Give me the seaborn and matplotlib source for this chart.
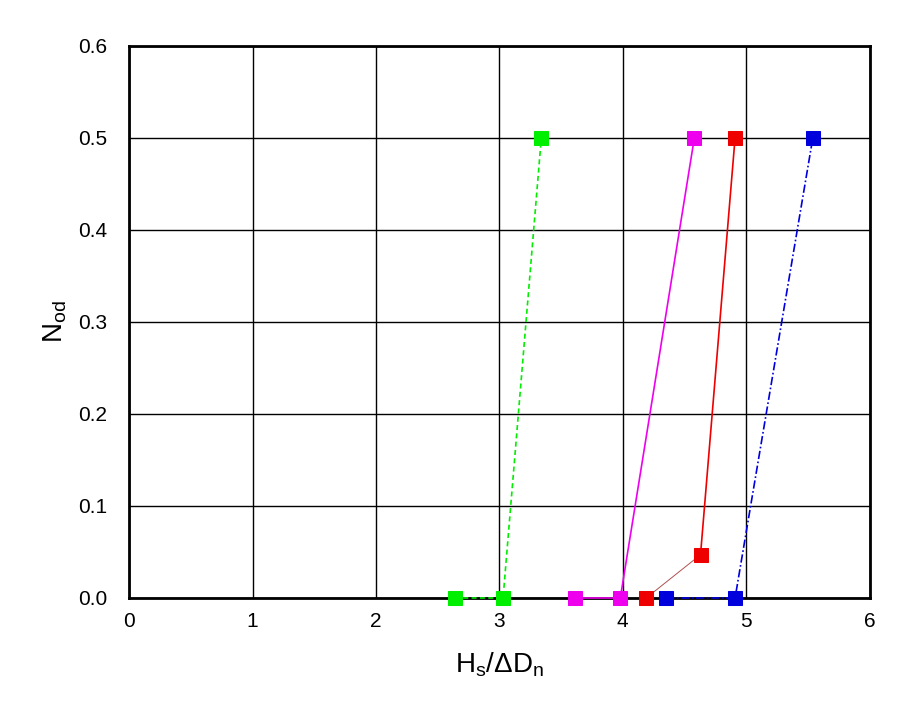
import numpy as np
import pandas as pd
import seaborn as sns
import matplotlib.pyplot as plt
from matplotlib.ticker import MultipleLocator

# data
green_x = [2.64, 3.03, 3.34]
green_y = [0.0, 0.0, 0.5]
magenta_x = [3.61, 3.98, 4.58]
magenta_y = [0.0, 0.0, 0.5]
red_x = [4.19, 4.63, 4.91]
red_y = [0.0, 0.047, 0.5]
blue_x = [4.35, 4.91, 5.54]
blue_y = [0.0, 0.0, 0.5]

sns.set_style('white')
plt.rcParams['font.family'] = ['Liberation Sans', 'DejaVu Sans']
plt.rcParams['mathtext.fontset'] = 'custom'
plt.rcParams['mathtext.rm'] = 'Liberation Sans'
plt.rcParams['text.color'] = 'black'
plt.rcParams['axes.labelcolor'] = 'black'
plt.rcParams['xtick.color'] = 'black'
plt.rcParams['ytick.color'] = 'black'

fig = plt.figure(figsize=(9.03, 7.06), dpi=100)
ax = fig.add_axes([0.143, 0.153, 0.820, 0.782])

ax.grid(True, which='major', color='black', linewidth=1.0)
ax.set_axisbelow(True)

series = [
    (green_x, green_y, '#00ee00', (0, (3, 2))),
    (magenta_x, magenta_y, '#ee00ee', '-'),
    (blue_x, blue_y, '#0000dd', (0, (5, 1.5, 1, 1.5))),
]
for xs, ys, col, ls in series:
    sns.lineplot(x=xs, y=ys, ax=ax, color=col, linestyle=ls, linewidth=1.2,
                 marker='s', markersize=10, markeredgecolor=col, sort=False,
                 zorder=5, clip_on=False)

# red: thin brownish first segment, then solid red
sns.lineplot(x=red_x[:2], y=red_y[:2], ax=ax, color='#b05050', linewidth=0.7,
             sort=False, zorder=4)
sns.lineplot(x=red_x[1:], y=red_y[1:], ax=ax, color='#ee0000', linewidth=1.2,
             sort=False, zorder=4)
sns.lineplot(x=red_x, y=red_y, ax=ax, color='#ee0000', linestyle='none',
             marker='s', markersize=10, markeredgecolor='#ee0000', sort=False,
             zorder=5, clip_on=False)

ax.set_xlim(0, 6)
ax.set_ylim(0, 0.6)
ax.xaxis.set_major_locator(MultipleLocator(1))
ax.xaxis.set_minor_locator(MultipleLocator(0.5))
ax.yaxis.set_major_locator(MultipleLocator(0.1))
ax.yaxis.set_minor_locator(MultipleLocator(0.05))
ax.yaxis.set_major_formatter(plt.FormatStrFormatter('%.1f'))
ax.tick_params(which='both', direction='in', top=False, right=False,
               labelsize=15, width=1.5, color='black')
ax.tick_params(which='major', length=8)
ax.tick_params(axis='x', which='major', pad=10)
ax.tick_params(axis='y', which='major', pad=16)
ax.tick_params(which='minor', length=6)
for s in ax.spines.values():
    s.set_linewidth(2)
    s.set_color('black')

ax.set_xlabel(r'$\mathregular{H_s/\Delta D_n}$', fontsize=20, labelpad=14)
ax.set_ylabel(r'$\mathregular{N_{od}}$', fontsize=20, labelpad=6)

plt.savefig('out.png', dpi=100)
plt.close()
